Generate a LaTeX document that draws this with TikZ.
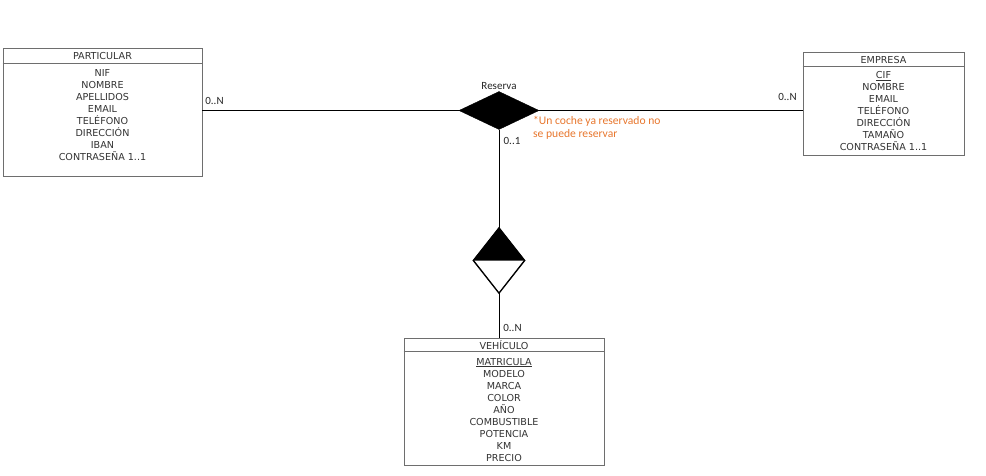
\documentclass[tikz,border=0pt]{standalone}
\usepackage{fontspec}
\setmainfont{DejaVu Sans}
\newfontfamily\lblfont{Carlito}
\usetikzlibrary{shapes.geometric}
\definecolor{txtgray}{HTML}{333333}
\definecolor{boxgray}{HTML}{6E6E6E}
\definecolor{noteorange}{HTML}{E8772E}
\begin{document}
\begin{tikzpicture}[x=1pt,y=-1pt,
  entbox/.style={draw=boxgray,line width=0.9pt,rectangle,inner sep=0pt},
  enttitle/.style={text=txtgray,inner sep=0pt,font=\fontsize{9.6}{12}\selectfont},
  attrs/.style={text=txtgray,inner sep=0pt,align=center,font=\fontsize{9.6}{12}\selectfont},
  conn/.style={draw=black,line width=0.9pt},
  card/.style={inner sep=0pt,text=black!85,font=\lblfont\fontsize{11}{12}\selectfont},
  note/.style={inner sep=0pt,text=noteorange,align=left,font=\lblfont\fontsize{11.6}{13}\selectfont}]
\useasboundingbox[fill=white] (0,0) rectangle (986,475);

% PARTICULAR
\node[entbox,minimum width=199pt,minimum height=128pt] (particular) at (102.5,112) {};
\draw[boxgray,line width=0.9pt] ([yshift=-16pt]particular.north west) coordinate (psepL) -- ([yshift=-16pt]particular.north east) coordinate (psepR);
\node[enttitle] (ptitle) at (102.5,56) {PARTICULAR};
\node[attrs] (pattrs) at (102.5,115) {NIF\\NOMBRE\\APELLIDOS\\EMAIL\\TELÉFONO\\DIRECCIÓN\\IBAN\\CONTRASEÑA 1..1};

% EMPRESA
\node[entbox,minimum width=161pt,minimum height=103pt] (empresa) at (883.5,103.5) {};
\draw[boxgray,line width=0.9pt] ([yshift=-15pt]empresa.north west) coordinate (esepL) -- ([yshift=-15pt]empresa.north east) coordinate (esepR);
\node[enttitle] (etitle) at (883.5,60) {EMPRESA};
\node[attrs] (eattrs) at (883.5,111) {\underline{CIF}\\NOMBRE\\EMAIL\\TELÉFONO\\DIRECCIÓN\\TAMAÑO\\CONTRASEÑA 1..1};

% VEHICULO
\node[entbox,minimum width=200pt,minimum height=127pt] (vehiculo) at (504,401.5) {};
\draw[boxgray,line width=0.9pt] ([yshift=-14pt]vehiculo.north west) coordinate (vsepL) -- ([yshift=-14pt]vehiculo.north east) coordinate (vsepR);
\node[enttitle] (vtitle) at (504,345.5) {VEHÍCULO};
\node[attrs] (vattrs) at (504,409.5) {\underline{MATRICULA}\\MODELO\\MARCA\\COLOR\\AÑO\\COMBUSTIBLE\\POTENCIA\\KM\\PRECIO};

% Reserva relationship
\node[diamond,fill=black,draw=black,inner sep=0pt,minimum width=80pt,minimum height=38pt] (res) at (499,110.5) {};
\node[card] (reslbl) at (499,86) {Reserva};

% weak-entity marker
\node[diamond,draw=black,line width=0.9pt,fill=white,inner sep=0pt,minimum width=51pt,minimum height=65pt] (vdiam) at (499,260.5) {};
\fill[black] (vdiam.north) -- (vdiam.east) -- (vdiam.west) -- cycle;
\draw[black,line width=0.9pt] (vdiam.north) -- (vdiam.east) -- (vdiam.south) -- (vdiam.west) -- cycle;

% connectors
\draw[conn] (res.west) -- (res.west -| particular.east);
\draw[conn] (res.east) -- (res.east -| empresa.west);
\draw[conn] (res.south) -- (vdiam.north);
\draw[conn] (vdiam.south) -- (vdiam.south |- vehiculo.north);

% cardinalities
\node[card] (c1) at (214.5,101) {0..N};
\node[card] (c2) at (787.5,97) {0..N};
\node[card] (c3) at (512,141) {0..1};
\node[card] (c4) at (512.5,328) {0..N};

% note
\node[note,anchor=north west] (noteA) at (533,116.5) {*Un coche ya reservado no\\se puede reservar};
\end{tikzpicture}
\end{document}
